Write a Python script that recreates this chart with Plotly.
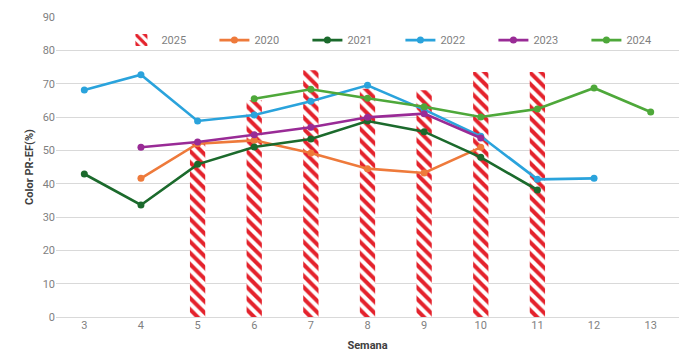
import plotly.graph_objects as go

weeks = [3, 4, 5, 6, 7, 8, 9, 10, 11, 12, 13]

bar_weeks = [5, 6, 7, 8, 9, 10, 11]
y2025 = [52, 65, 74, 68.5, 68, 73.5, 73.5]

w2020 = [4, 5, 6, 7, 8, 9, 10]
y2020 = [41.6, 52, 53, 49.2, 44.5, 43.2, 50.9]

w2021 = [3, 4, 5, 6, 7, 8, 9, 10, 11]
y2021 = [42.9, 33.6, 45.8, 51, 53.4, 58.8, 55.6, 47.9, 38.1]

w2022 = [3, 4, 5, 6, 7, 8, 9, 10, 11, 12]
y2022 = [68.1, 72.7, 58.8, 60.6, 64.7, 69.5, 62.2, 54.2, 41.3, 41.6]

w2023 = [4, 5, 6, 7, 8, 9, 10]
y2023 = [50.9, 52.5, 54.7, 56.9, 59.9, 61, 53.7]

w2024 = [6, 7, 8, 9, 10, 11, 12, 13]
y2024 = [65.5, 68.3, 65.6, 63.1, 60, 62.4, 68.7, 61.5]

yticks = [0, 10, 20, 30, 40, 50, 60, 70, 80, 90]

fig = go.Figure()
fig.add_trace(go.Bar(
    x=bar_weeks, y=y2025, name="2025", width=0.27,
    marker=dict(color="white", line=dict(width=0),
                pattern=dict(shape="\\", fgcolor="#E4222C", bgcolor="white",
                             size=8, solidity=0.5, fillmode="replace", fgopacity=1)),
))

lines = [
    ("2020", w2020, y2020, "#EE7A3B"),
    ("2021", w2021, y2021, "#1B6A2C"),
    ("2022", w2022, y2022, "#2AA3DC"),
    ("2023", w2023, y2023, "#992B96"),
    ("2024", w2024, y2024, "#4EA83A"),
]
for name, xs, ys, c in lines:
    fig.add_trace(go.Scatter(
        x=xs, y=ys, name=name, mode="lines+markers",
        line=dict(color=c, width=2.6), marker=dict(color=c, size=7),
    ))

fig.update_layout(
    width=681, height=363,
    margin=dict(l=56, r=2, t=17, b=46, autoexpand=False),
    paper_bgcolor="white", plot_bgcolor="white",
    font=dict(family="Roboto, Liberation Sans, sans-serif", color="#7F7F7F", size=11),
    showlegend=True,
    legend=dict(orientation="h", x=0.105, xanchor="left", y=0.923, yanchor="middle",
                entrywidth=48, entrywidthmode="pixels", bgcolor="rgba(0,0,0,0)",
                font=dict(size=11, color="#7F7F7F"), traceorder="normal",
                itemwidth=30),
    xaxis=dict(range=[2.5, 13.5], tickvals=weeks, ticktext=[str(w) for w in weeks],
               showgrid=False, zeroline=False, showline=False, ticks="",
               tickfont=dict(size=11, color="#7F7F7F"),
               title=dict(text="<b>Semana</b>", font=dict(size=11, color="#404040"), standoff=10)),
    yaxis=dict(range=[0, 90], tickvals=yticks, showgrid=True, gridcolor="#D9D9D9",
               gridwidth=1, zeroline=True, zerolinecolor="#D9D9D9", zerolinewidth=1,
               ticks="", tickfont=dict(size=11, color="#7F7F7F"),
               title=dict(text="<b>Color PR-EF(%)</b>", font=dict(size=11, color="#404040"), standoff=6)),
)

fig.write_html("out.html")
